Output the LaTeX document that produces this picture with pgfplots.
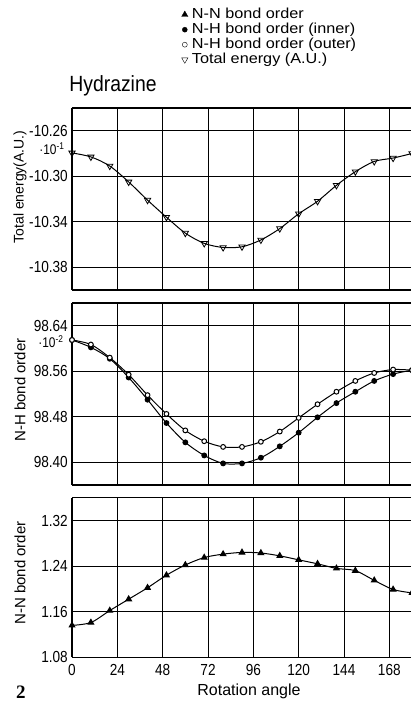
\documentclass[border=0pt]{standalone}
\usepackage{fontspec}
\setmainfont{Liberation Sans}
\newfontfamily\condfont{Liberation Sans}[FakeStretch=0.85]
\newfontfamily\titlefont{Liberation Sans}[FakeStretch=0.88]
\newfontfamily\legfont{Liberation Sans}[FakeStretch=1.12]
\newfontfamily\figfont{Liberation Serif}
\newcommand{\legtxt}{\legfont\fontsize{14.5}{15}\selectfont}
\usepackage{pgfplots}
\pgfplotsset{compat=1.18}

\pgfplotsset{
  panel/.style={
    scale only axis, width=340pt,
    xmin=0, xmax=180, xtick={0,24,...,168},
    axis x line=box, axis y line=left,
    axis line style={-, line width=1.3pt},
    y axis line style={-},
    grid=major, grid style={black, line width=0.7pt},
    major tick length=0pt,
    tick label style={font=\condfont\fontsize{16}{16}\selectfont},
    yticklabel style={inner sep=0pt, xshift=-4pt},
    xticklabel style={inner sep=0pt, yshift=-7pt},
  },
  curve/.style={black, line width=1pt, smooth},
}

\begin{document}
\begin{tikzpicture}
% total energy
\begin{axis}[panel, at={(72pt,-290pt)}, anchor=south west, height=182pt,
  ymin=-10.40, ymax=-10.24, ytick={-10.38,-10.34,-10.30,-10.26},
  yticklabels={-10.38,-10.34,-10.30,-10.26}, xticklabels={},
  legend cell align=left,
  legend style={at={(axis description cs:0.322,1.555)}, anchor=north west,
    draw=none, fill=none, inner sep=0pt, row sep=0pt, font=\legtxt,
    nodes={inner xsep=4pt, inner ysep=2pt, text height=9.5pt, text depth=1.5pt}}]
\addlegendimage{only marks, black, mark=triangle*, mark size=3.6pt}
\addlegendentry{\legtxt N-N bond order}
\addlegendimage{only marks, black, mark=*, mark size=2.5pt}
\addlegendentry{\legtxt N-H bond order (inner)}
\addlegendimage{only marks, black, mark=*, mark size=2.5pt, mark options={fill=white}}
\addlegendentry{\legtxt N-H bond order (outer)}
\addlegendimage{only marks, black, mark=triangle, mark size=3.6pt, mark options={rotate=180}}
\addlegendentry{\legtxt Total energy (A.U.)}
\addplot[curve, mark=triangle, mark size=3.6pt, mark options={rotate=180, fill=white, line width=0.8pt}, forget plot] coordinates {
  (0,-10.2795) (10,-10.283) (20,-10.291) (30,-10.305) (40,-10.321)
  (50,-10.336) (60,-10.350) (70,-10.359) (80,-10.3626) (90,-10.362)
  (100,-10.356) (110,-10.346) (120,-10.333) (130,-10.322) (140,-10.308)
  (150,-10.296) (160,-10.287) (170,-10.284) (180,-10.280)
};
\end{axis}

% N-H bond order
\begin{axis}[panel, at={(72pt,-485pt)}, anchor=south west, height=182pt,
  ymin=98.36, ymax=98.68, ytick={98.40,98.48,98.56,98.64},
  yticklabels={98.40,98.48,98.56,98.64}, xticklabels={}]
\addplot[curve, mark=*, mark size=2.4pt] coordinates {
  (0,98.615) (10,98.602) (20,98.582) (30,98.549) (40,98.510)
  (50,98.469) (60,98.435) (70,98.412) (80,98.398) (90,98.398)
  (100,98.408) (110,98.428) (120,98.452) (130,98.479) (140,98.504)
  (150,98.524) (160,98.543) (170,98.555) (180,98.562)
};
\addplot[curve, mark=*, mark size=2.4pt, mark options={fill=white}] coordinates {
  (0,98.615) (10,98.607) (20,98.584) (30,98.554) (40,98.518)
  (50,98.485) (60,98.456) (70,98.437) (80,98.427) (90,98.427)
  (100,98.436) (110,98.454) (120,98.478) (130,98.502) (140,98.524)
  (150,98.543) (160,98.557) (170,98.563) (180,98.562)
};
\end{axis}

% N-N bond order
\begin{axis}[panel, at={(72pt,-657.3pt)}, anchor=south west, height=159.6pt,
  ymin=1.08, ymax=1.36, ytick={1.08,1.16,1.24,1.32},
  yticklabels={1.08,1.16,1.24,1.32}, xticklabels={0,24,48,72,96,120,144,168}]
\addplot[curve, mark=triangle*, mark size=3.2pt] coordinates {
  (0,1.136) (10,1.141) (20,1.162) (30,1.182) (40,1.202)
  (50,1.224) (60,1.242) (70,1.255) (80,1.261) (90,1.264)
  (100,1.263) (110,1.258) (120,1.251) (130,1.244) (140,1.236)
  (150,1.232) (160,1.215) (170,1.199) (180,1.193)
};
\end{axis}

\node[font=\titlefont\fontsize{22}{22}\selectfont] at (113pt,-86pt) {Hydrazine};
\node[anchor=east, font=\condfont\fontsize{14}{14}\selectfont] at (68pt,-149pt) {·10\textsuperscript{-1}};
\node[anchor=east, font=\condfont\fontsize{14}{14}\selectfont] at (67pt,-342pt) {·10\textsuperscript{-2}};
\node[rotate=90, font=\fontsize{14}{14}\selectfont] at (20pt,-187pt) {Total energy(A.U.)};
\node[rotate=90, font=\fontsize{15}{15}\selectfont] at (20pt,-390pt) {N-H bond order};
\node[rotate=90, font=\fontsize{15}{15}\selectfont] at (20pt,-573pt) {N-N bond order};
\node[font=\fontsize{16}{16}\selectfont] at (249pt,-691pt) {Rotation angle};
\node[font=\figfont\bfseries\fontsize{19}{19}\selectfont] at (21pt,-692pt) {2};

\pgfresetboundingbox
\useasboundingbox (0pt,0pt) rectangle (411pt,-704pt);
\end{tikzpicture}
\end{document}
